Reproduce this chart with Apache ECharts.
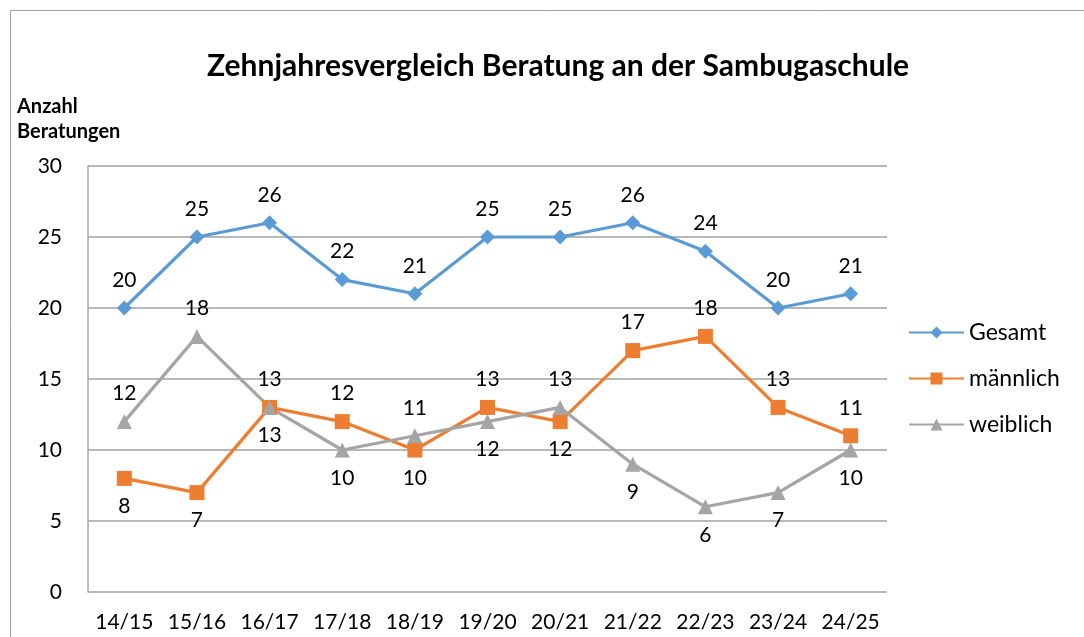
<!DOCTYPE html>
<html>
<head>
<meta charset="utf-8">
<script src="https://cdn.jsdelivr.net/npm/echarts@6/dist/echarts.min.js"></script>
<style>
  html, body { margin: 0; padding: 0; background: #fff; }
  #chart { width: 1084px; height: 637px; }
</style>
</head>
<body>
<div id="chart"></div>
<script>
// Schuljahre
var years = ['14/15', '15/16', '16/17', '17/18', '18/19', '19/20', '20/21', '21/22', '22/23', '23/24', '24/25'];
var gesamt = [20, 25, 26, 22, 21, 25, 25, 26, 24, 20, 21];
var maennlich = [8, 7, 13, 12, 10, 13, 12, 17, 18, 13, 11];
var weiblich = [12, 18, 13, 10, 11, 12, 13, 9, 6, 7, 10];

// where each value label sits (like in the original)
var maennlichLabelPos = ['bottom', 'bottom', 'top', 'top', 'bottom', 'top', 'bottom', 'top', 'top', 'top', 'top'];
var weiblichLabelPos = ['top', 'top', 'bottom', 'bottom', 'top', 'bottom', 'top', 'bottom', 'bottom', 'bottom', 'bottom'];

var font = 'Lato, "Open Sans", sans-serif';

function withLabels(values, positions) {
  return values.map(function (v, i) {
    return {value: v, label: {position: positions[i]}};
  });
}

var chart = echarts.init(document.getElementById('chart'));

var labelStyle = {
  show: true,
  position: 'top',
  distance: 10,
  fontSize: 21,
  color: '#000',
  fontFamily: font
};

var option = {
  animation: false,
  textStyle: {fontFamily: font},
  title: {
    text: 'Zehnjahresvergleich Beratung an der Sambugaschule',
    left: 202,
    top: 46,
    textStyle: {fontSize: 30, fontWeight: 'bold', color: '#000', fontFamily: font}
  },
  graphic: [
    {
      type: 'rect',
      shape: {x: 10.5, y: 10.5, width: 1100, height: 700},
      style: {fill: 'none', stroke: '#a0a0a0', lineWidth: 1}
    },
    {
      type: 'text',
      left: 17,
      top: 94,
      style: {
        text: 'Anzahl\nBeratungen',
        fontSize: 20,
        fontWeight: 'bold',
        lineHeight: 25,
        fill: '#000',
        fontFamily: font
      }
    }
  ],
  legend: {
    orient: 'vertical',
    left: 903,
    top: 316,
    itemWidth: 55,
    itemHeight: 15,
    itemGap: 23,
    textStyle: {fontSize: 23, color: '#000', fontFamily: font},
    data: ['Gesamt', 'männlich', 'weiblich']
  },
  grid: {
    left: 88,
    right: 197,
    top: 166,
    bottom: 45,
    containLabel: false
  },
  xAxis: {
    type: 'category',
    data: years,
    boundaryGap: true,
    axisLine: {show: false},
    axisTick: {show: false},
    axisLabel: {fontSize: 21, color: '#000', margin: 20, interval: 0, fontFamily: font}
  },
  yAxis: {
    type: 'value',
    min: 0,
    max: 30,
    interval: 5,
    axisLine: {show: true, lineStyle: {color: '#a6a6a6', width: 1.5}},
    axisTick: {show: false},
    axisLabel: {fontSize: 21, color: '#000', margin: 26, fontFamily: font},
    splitLine: {lineStyle: {color: '#a0a0a0', width: 1.5}}
  },
  series: [
    {
      name: 'Gesamt',
      type: 'line',
      data: gesamt,
      symbol: 'diamond',
      symbolSize: 15,
      lineStyle: {color: '#5b9bd5', width: 3.2},
      itemStyle: {color: '#5b9bd5'},
      label: labelStyle
    },
    {
      name: 'männlich',
      type: 'line',
      data: withLabels(maennlich, maennlichLabelPos),
      symbol: 'rect',
      symbolSize: 15,
      lineStyle: {color: '#ed7d31', width: 3.2},
      itemStyle: {color: '#ed7d31'},
      label: labelStyle
    },
    {
      name: 'weiblich',
      type: 'line',
      data: withLabels(weiblich, weiblichLabelPos),
      symbol: 'triangle',
      symbolSize: 15,
      lineStyle: {color: '#a5a5a5', width: 3.2},
      itemStyle: {color: '#a5a5a5'},
      label: labelStyle
    }
  ]
};

chart.setOption(option);
</script>
</body>
</html>
